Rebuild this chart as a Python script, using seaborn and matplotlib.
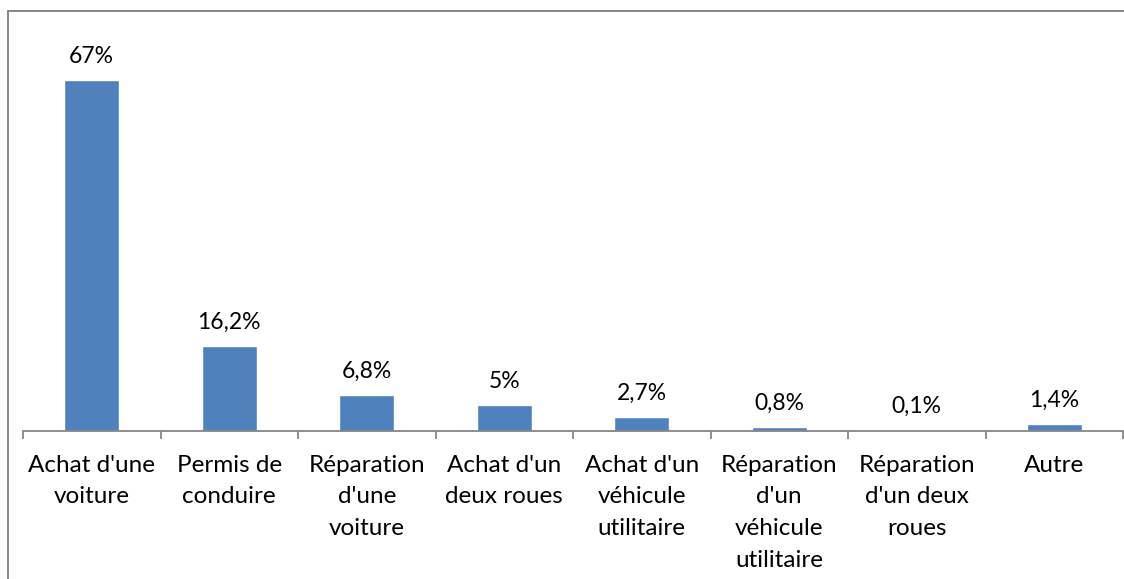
import matplotlib
matplotlib.use("Agg")
import matplotlib.pyplot as plt
from matplotlib.lines import Line2D
import seaborn as sns

# data
categories = ["Achat d'une\nvoiture", "Permis de\nconduire", "Réparation\nd'une\nvoiture",
              "Achat d'un\ndeux roues", "Achat d'un\nvéhicule\nutilitaire",
              "Réparation\nd'un\nvéhicule\nutilitaire", "Réparation\nd'un deux\nroues", "Autre"]
values = [67, 16.2, 6.8, 5, 2.7, 0.8, 0.1, 1.4]
labels = ["67%", "16,2%", "6,8%", "5%", "2,7%", "0,8%", "0,1%", "1,4%"]

sns.set_theme(style="white")
plt.rcParams["font.family"] = ["Lato", "DejaVu Sans"]

W, H = 1124, 579
fig = plt.figure(figsize=(W / 100, H / 100), dpi=100)
ax = fig.add_axes([23 / W, (H - 431) / H, 1100 / W, (431 - 12) / H])

sns.barplot(x=list(range(len(values))), y=values, color="#4F81BD", saturation=1,
            width=0.4, ax=ax)
ax.set_ylim(0, 80)
ax.set_xlim(-0.5, len(values) - 0.5)

for i, (v, t) in enumerate(zip(values, labels)):
    ax.annotate(t, (i, v), xytext=(0, 9.5), textcoords="offset points",
                ha="center", va="bottom", fontsize=16.5, color="black")

for s in ["left", "top", "right"]:
    ax.spines[s].set_visible(False)
ax.spines["bottom"].set_color("#868686")
ax.spines["bottom"].set_linewidth(1.3)

ax.set_yticks([])
ax.set_xticks(range(len(values)))
ax.set_xticklabels(categories, fontsize=17.5, linespacing=1.63, va="top")
ax.set_xticks([i - 0.5 for i in range(len(values) + 1)], minor=True)
ax.tick_params(axis="x", which="major", length=0, pad=17, colors="black")
ax.tick_params(axis="x", which="minor", length=6, width=1.3, color="#868686",
               direction="out", bottom=True)
ax.set_xlabel("")
ax.set_ylabel("")

# outer chart frame (left and top edges visible)
fig.add_artist(Line2D([7.5 / W, 7.5 / W], [0, (H - 11) / H], color="#868686", lw=1.4))
fig.add_artist(Line2D([7.5 / W, 1], [(H - 11) / H, (H - 11) / H], color="#868686", lw=1.4))

fig.savefig("out.png", dpi=100)
